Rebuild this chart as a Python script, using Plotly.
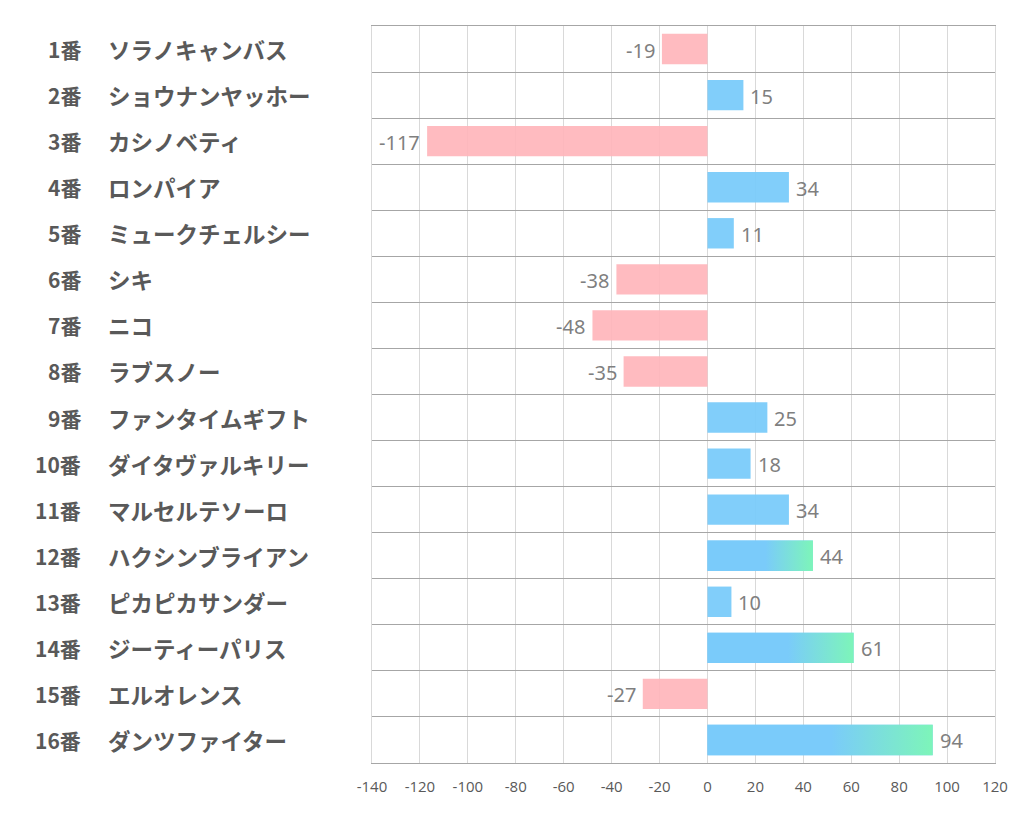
import plotly.graph_objects as go

numbers = ["1番", "2番", "3番", "4番", "5番", "6番", "7番", "8番", "9番", "10番",
           "11番", "12番", "13番", "14番", "15番", "16番"]
names = ["ソラノキャンバス", "ショウナンヤッホー", "カシノベティ", "ロンパイア", "ミュークチェルシー",
         "シキ", "ニコ", "ラブスノー", "ファンタイムギフト", "ダイタヴァルキリー",
         "マルセルテソーロ", "ハクシンブライアン", "ピカピカサンダー", "ジーティーパリス",
         "エルオレンス", "ダンツファイター"]
values = [-19, 15, -117, 34, 11, -38, -48, -35, 25, 18, 34, 44, 10, 61, -27, 94]
gradient_idx = [11, 13, 15]
x_ticks = [-140, -120, -100, -80, -60, -40, -20, 0, 20, 40, 60, 80, 100, 120]

BLUE = "rgba(122,203,250,0.95)"
PINK = "rgba(255,180,185,0.9)"
BAR_W = 0.66

ypos = list(range(len(values)))
colors = [BLUE if v >= 0 else PINK for v in values]

fig = go.Figure()
fig.add_trace(go.Bar(
    x=values, y=ypos, orientation="h", width=BAR_W,
    marker=dict(color=colors, line=dict(width=0)),
    showlegend=False, hoverinfo="skip",
))

for i in gradient_idx:
    v = values[i]
    y0, y1 = i - BAR_W / 2, i + BAR_W / 2
    fig.add_trace(go.Scatter(
        x=[0, v, v, 0, 0], y=[y0, y0, y1, y1, y0], mode="lines",
        line=dict(width=0), fill="toself",
        fillgradient=dict(type="horizontal",
                          colorscale=[[0, "rgb(122,203,250)"], [0.55, "rgb(122,203,250)"],
                                      [1, "rgb(125,245,185)"]]),
        showlegend=False, hoverinfo="skip",
    ))

# page body has an 8px offset
FW, FH = 1006, 818
L, T = 364, 18
R = FW - (995 - 8)
B = FH - (763 - 8)
W = FW - L - R

annotations = []
for i, (n, nm) in enumerate(zip(numbers, names)):
    annotations.append(dict(x=(83 - 8 - L) / W, xref="paper", y=i, yref="y", text=n,
                            showarrow=False, xanchor="right",
                            font=dict(family="Noto Sans CJK JP", size=21, color="#595959", weight="bold")))
    annotations.append(dict(x=(106 - 8 - L) / W, xref="paper", y=i, yref="y", text=nm,
                            showarrow=False, xanchor="left",
                            font=dict(family="Noto Sans CJK JP", size=22.5, color="#595959", weight="bold")))
for i, v in enumerate(values):
    annotations.append(dict(x=v, xref="x", y=i, yref="y", text=str(v), showarrow=False,
                            xanchor="left" if v >= 0 else "right",
                            xshift=5 if v >= 0 else -5, yshift=-1,
                            font=dict(family="Noto Sans", size=20, color="#7F7F7F")))

fig.update_layout(
    width=FW, height=FH,
    margin=dict(l=L, r=R, t=T, b=B, autoexpand=False),
    plot_bgcolor="white", paper_bgcolor="white",
    annotations=annotations,
    xaxis=dict(range=[-140, 120], tickvals=x_ticks, ticktext=[str(t) for t in x_ticks],
               showgrid=True, gridcolor="#D9D9D9", gridwidth=1, zeroline=False,
               showline=True, mirror=True, linecolor="#A6A6A6", linewidth=1,
               tickfont=dict(family="Open Sans", size=15, color="#595959"),
               ticks="", ticklabelstandoff=10, fixedrange=True),
    yaxis=dict(range=[15.5, -0.5], tickvals=[k - 0.5 for k in range(17)],
               showticklabels=False, showgrid=True, gridcolor="#A6A6A6", gridwidth=1,
               showline=True, mirror=True, linecolor="#D9D9D9", linewidth=1,
               zeroline=False, ticks="", fixedrange=True),
)

fig.write_html("out.html")
